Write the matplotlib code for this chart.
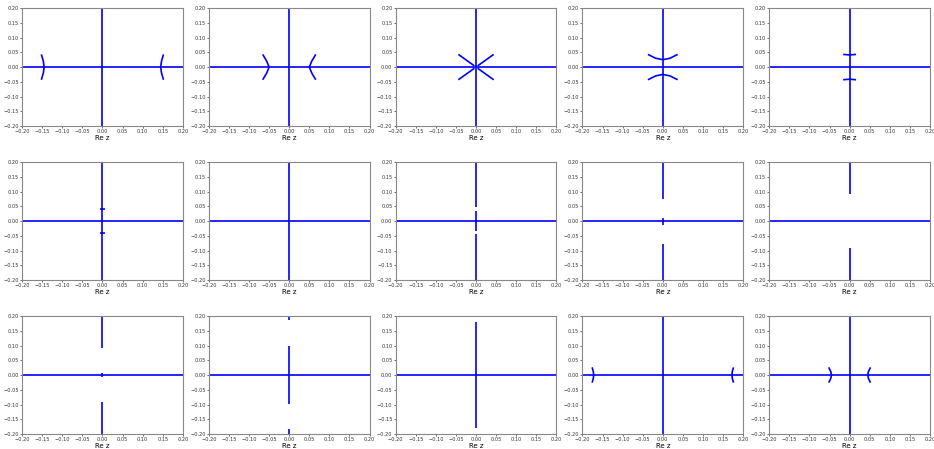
import matplotlib
matplotlib.use("Agg")
import matplotlib.pyplot as plt

# locus pieces per panel: each piece is (x values, y values)
REAL_AXIS = ([-0.2, 0.2], [0.0, 0.0])
FULL_IMAG = ([0.0, 0.0], [-0.2, 0.2])

panel_1 = [REAL_AXIS, FULL_IMAG,
           ([-0.152, -0.147, -0.145, -0.147, -0.152], [0.043, 0.02, 0.0, -0.02, -0.043]),
           ([0.152, 0.147, 0.145, 0.147, 0.152], [0.043, 0.02, 0.0, -0.02, -0.043])]
panel_2 = [REAL_AXIS, FULL_IMAG,
           ([-0.066, -0.056, -0.050, -0.056, -0.066], [0.043, 0.02, 0.0, -0.02, -0.043]),
           ([0.066, 0.056, 0.050, 0.056, 0.066], [0.043, 0.02, 0.0, -0.02, -0.043])]
panel_3 = [REAL_AXIS, FULL_IMAG,
           ([-0.044, -0.004], [0.043, 0.004]), ([0.044, 0.004], [0.043, 0.004]),
           ([-0.044, -0.004], [-0.043, -0.004]), ([0.044, 0.004], [-0.043, -0.004])]
panel_4 = [REAL_AXIS, FULL_IMAG,
           ([-0.037, -0.018, 0.0, 0.018, 0.037], [0.043, 0.03, 0.025, 0.03, 0.043]),
           ([-0.037, -0.018, 0.0, 0.018, 0.037], [-0.043, -0.03, -0.025, -0.03, -0.043])]
panel_5 = [REAL_AXIS, FULL_IMAG,
           ([-0.016, 0.0, 0.016], [0.043, 0.041, 0.043]),
           ([-0.016, 0.0, 0.016], [-0.043, -0.041, -0.043])]
panel_6 = [REAL_AXIS, FULL_IMAG,
           ([-0.006, 0.006], [0.041, 0.041]),
           ([-0.006, 0.006], [-0.041, -0.041])]
panel_7 = [REAL_AXIS, FULL_IMAG]
panel_8 = [REAL_AXIS,
           ([0.0, 0.0], [0.2, 0.047]), ([0.0, 0.0], [0.035, -0.033]), ([0.0, 0.0], [-0.045, -0.2])]
panel_9 = [REAL_AXIS,
           ([0.0, 0.0], [0.2, 0.076]), ([0.0, 0.0], [0.010, -0.012]), ([0.0, 0.0], [-0.078, -0.2])]
panel_10 = [REAL_AXIS,
            ([0.0, 0.0], [0.2, 0.09]), ([0.0, 0.0], [-0.09, -0.2])]
panel_11 = [REAL_AXIS,
            ([0.0, 0.0], [0.2, 0.092]), ([0.0, 0.0], [0.007, -0.007]), ([0.0, 0.0], [-0.092, -0.2])]
panel_12 = [REAL_AXIS,
            ([0.0, 0.0], [0.2, 0.185]), ([0.0, 0.0], [0.097, -0.097]), ([0.0, 0.0], [-0.184, -0.2])]
panel_13 = [REAL_AXIS,
            ([0.0, 0.0], [0.18, -0.18])]
panel_14 = [REAL_AXIS, FULL_IMAG,
            ([-0.176, -0.173, -0.172, -0.173, -0.176], [0.026, 0.012, 0.0, -0.012, -0.026]),
            ([0.176, 0.173, 0.172, 0.173, 0.176], [0.026, 0.012, 0.0, -0.012, -0.026])]
panel_15 = [REAL_AXIS, FULL_IMAG,
            ([-0.052, -0.047, -0.045, -0.047, -0.052], [0.026, 0.012, 0.0, -0.012, -0.026]),
            ([0.052, 0.047, 0.045, 0.047, 0.052], [0.026, 0.012, 0.0, -0.012, -0.026])]

panels = [panel_1, panel_2, panel_3, panel_4, panel_5,
          panel_6, panel_7, panel_8, panel_9, panel_10,
          panel_11, panel_12, panel_13, panel_14, panel_15]

ticks = [-0.20, -0.15, -0.10, -0.05, 0.00, 0.05, 0.10, 0.15, 0.20]
tick_labels = [f"{t:.2f}".replace("-", "\u2212") for t in ticks]

fig, axes = plt.subplots(3, 5, figsize=(9.34, 4.49), dpi=100)
plt.subplots_adjust(left=0.0236, right=0.9957, top=0.982, bottom=0.0334,
                    wspace=0.162, hspace=0.305)

for ax, pieces in zip(axes.flat, panels):
    for xs, ys in pieces:
        ax.plot(xs, ys, color="blue", linewidth=1.2, solid_capstyle="butt")
    ax.set(xlim=(-0.2, 0.2), ylim=(-0.2, 0.2))
    ax.set_xticks(ticks)
    ax.set_yticks(ticks)
    ax.set_xticklabels(tick_labels)
    ax.set_yticklabels(tick_labels)
    ax.tick_params(labelsize=3.6, length=1.5, width=0.5, pad=0.8, colors="#333333")
    for s in ax.spines.values():
        s.set_color("#888888")
        s.set_linewidth(0.8)
    ax.set_xlabel("Re z", fontsize=5, labelpad=0.5)

plt.savefig("out.png", dpi=100)
plt.close()
